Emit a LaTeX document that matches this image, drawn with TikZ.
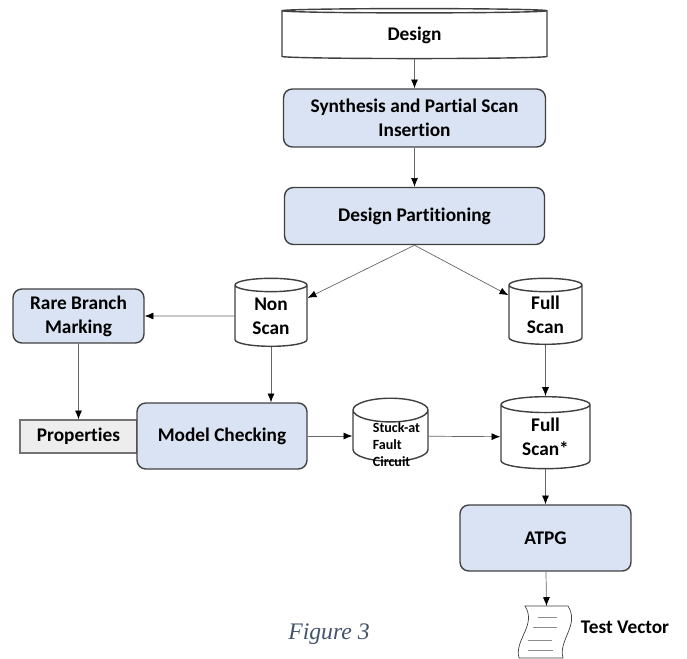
\documentclass[tikz,border=0pt]{standalone}
\usepackage{fontspec}
\setmainfont{Carlito}[Ligatures=NoCommon]
\newfontfamily\capfont{Liberation Serif}
\usepackage{xcolor}
\usepackage{tikz}
\usetikzlibrary{positioning}
\usetikzlibrary{shapes.geometric, arrows.meta}
\definecolor{boxblue}{HTML}{DAE3F3}
\definecolor{boxline}{HTML}{404040}
\definecolor{propgray}{HTML}{EDEDED}
\definecolor{capblue}{HTML}{44546A}
\tikzset{
    stage/.style={draw=boxline, thick, rectangle, rounded corners=5pt, fill=boxblue, align=center,
                  font=\bfseries\fontsize{11}{13.5}\selectfont},
    store/.style={draw=boxline, thick, cylinder, shape border rotate=90, fill=white, cylinder uses custom fill,
                  cylinder body fill=white, cylinder end fill=white, inner sep=0pt, align=center,
                  font=\bfseries\fontsize{11}{13.5}\selectfont},
    prop/.style={draw=black!55, thick, rectangle, fill=propgray, font=\bfseries\fontsize{11}{13.5}\selectfont},
    arrow/.style={draw=black!60, -{Latex[black, length=5pt, width=4pt]}}
}

\begin{document}
\begin{tikzpicture}[x=0.02cm, y=-0.02cm]
\useasboundingbox (0,0) rectangle (687,659);

% top of the flow
\node [store, minimum width=5.3cm, minimum height=1.0cm, aspect=0.08] (design) at (414.5,35)  {Design};
\node [stage, minimum width=5.24cm, minimum height=1.16cm] (synth) at (414.5,118) {Synthesis and Partial Scan\\Insertion};
\node [stage, minimum width=5.2cm, minimum height=1.14cm]  (part)  at (414.5,216) {Design Partitioning};

% the two partitions
\node [store, minimum width=1.44cm, minimum height=1.36cm, aspect=0.36] (nonscan)  at (271,316)   {Non\\Scan};
\node [store, minimum width=1.46cm, minimum height=1.32cm, aspect=0.36] (fullscan) at (545.5,315) {Full\\Scan};
\node [stage, minimum width=2.62cm, minimum height=1.08cm] (rare) at (78.5,316) {Rare Branch\\Marking};

% model checking row
\node [prop, minimum width=2.34cm, minimum height=0.66cm] (props) at (78.5,436.5) {Properties\hspace{2.3em}};
\node [stage, minimum width=3.4cm, minimum height=1.32cm] (model) at (222,436) {Model Checking};
\node [store, minimum width=1.5cm, minimum height=1.26cm, aspect=0.4,
       font=\bfseries\fontsize{8}{9.5}\selectfont] (stuck) at (390.5,436)
      {\hspace{0.24cm}\raisebox{-0.27cm}[0pt][0pt]{\begin{tabular}{@{}l@{}}Stuck-at\\Fault\\Circuit\end{tabular}}};
\node [store, minimum width=1.78cm, minimum height=1.44cm, aspect=0.34] (fsstar) at (545.5,437) {Full\\Scan*};

% test generation
\node [stage, minimum width=3.42cm, minimum height=1.32cm] (atpg) at (545.5,538) {ATPG};
\coordinate (tv) at (546.5,606);
\draw [boxline, fill=white] (525,606) -- (568,606) .. controls (580,625) and (558,640) .. (563,658)
      -- (519,658) .. controls (514,640) and (537,625) .. cycle;
\foreach \ya/\xa/\xb in {617/538/557, 627/533/557, 640/528/552, 650/528/553}
    \draw [black!45] (\xa,\ya) -- (\xb,\ya);
\node [font=\bfseries\fontsize{11}{13.5}\selectfont] (tvtext) at (625,627) {Test Vector};

\node [font=\capfont\itshape\fontsize{13.5}{16}\selectfont, text=capblue] (cap) at (329,634) {Figure 3};

\draw [arrow] (design) -- (synth);
\draw [arrow] (synth) -- (part);
\draw [arrow] (part.south) -- (nonscan);
\draw [arrow] (part.south) -- (fullscan);
\draw [arrow] (nonscan) -- (rare);
\draw [arrow] (nonscan) -- (nonscan |- model.north);
\draw [arrow] (rare) -- (props);
\draw [arrow] (model) -- (stuck);
\draw [arrow] (stuck) -- (fsstar);
\draw [arrow] (fullscan) -- (fsstar);
\draw [arrow] (fsstar) -- (atpg);
\draw [arrow] (atpg) -- (tv);

\end{tikzpicture}
\end{document}
